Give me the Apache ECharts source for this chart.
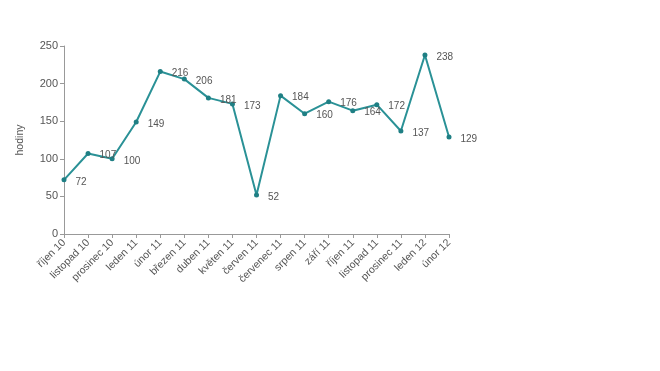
<!DOCTYPE html>
<html><head><meta charset="utf-8">
<script src="https://cdn.jsdelivr.net/npm/echarts@6/dist/echarts.min.js"></script>
<style>html,body{margin:0;padding:0;background:#fff}#c{width:660px;height:371px}</style>
</head><body><div id="c"></div>
<script>
const categories = ['říjen 10','listopad 10','prosinec 10','leden 11','únor 11','březen 11','duben 11','květen 11','červen 11','červenec 11','srpen 11','září 11','říjen 11','listopad 11','prosinec 11','leden 12','únor 12'];
const values = [72,107,100,149,216,206,181,173,52,184,160,176,164,172,137,238,129];
const yTicks = {min:0, max:250, interval:50};
const yName = 'hodiny';

const chart = echarts.init(document.getElementById('c'));
const txt = '#555';
const font = 'Liberation Sans, Arial, sans-serif';
chart.setOption({
  animation:false,
  grid:{left:64,right:211,top:46,bottom:137},
  xAxis:{type:'category',data:categories,boundaryGap:false,
    axisLine:{lineStyle:{color:'#999'}},
    axisTick:{show:true,alignWithLabel:true,lineStyle:{color:'#999'},length:4},
    axisLabel:{rotate:45,color:txt,fontSize:10.5,fontFamily:font,interval:0,margin:7}},
  yAxis:{type:'value',min:yTicks.min,max:yTicks.max,interval:yTicks.interval,
    name:yName,nameLocation:'middle',nameGap:38,nameRotate:90,
    nameTextStyle:{color:txt,fontSize:10.5,fontFamily:font},
    splitLine:{show:false},
    axisLine:{show:true,lineStyle:{color:'#999'}},
    axisTick:{show:true,length:4,lineStyle:{color:'#999'}},
    axisLabel:{color:txt,fontSize:11,fontFamily:font,margin:6}},
  series:[{type:'line',data:values,symbol:'circle',symbolSize:5,
    lineStyle:{color:'#2a9196',width:2},itemStyle:{color:'#1f7f84'},
    label:{show:true,position:'right',offset:[4,2],color:txt,fontSize:10,fontFamily:font}}]
});
</script></body></html>
